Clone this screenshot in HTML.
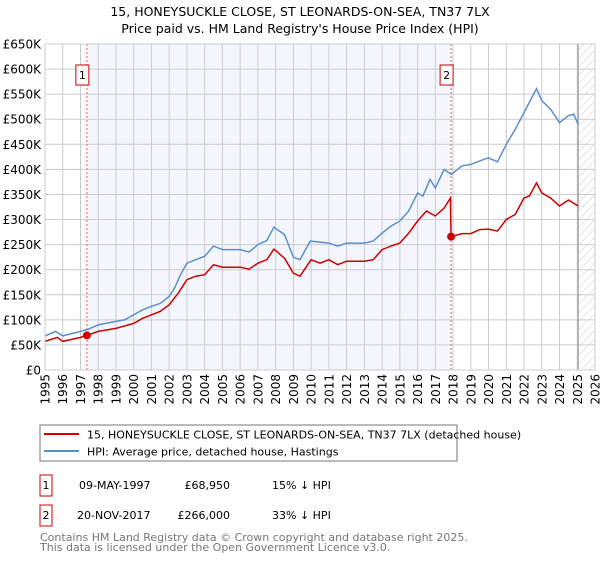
<!DOCTYPE html>
<html><head><meta charset="utf-8"><style>
body{margin:0;background:#fff;font-family:"DejaVu Sans","Liberation Sans",sans-serif;}
svg text{font-family:"DejaVu Sans","Liberation Sans",sans-serif;}
</style></head><body>
<svg id="chart" width="600" height="560" xmlns="http://www.w3.org/2000/svg">
<defs><pattern id="hatch" width="6" height="6" patternUnits="userSpaceOnUse" patternTransform="rotate(45)"><line x1="0" y1="0" x2="0" y2="6" stroke="#ccc" stroke-width="1"/></pattern></defs>
<text x="300" y="16" text-anchor="middle" font-size="12.5">15, HONEYSUCKLE CLOSE, ST LEONARDS-ON-SEA, TN37 7LX</text>
<text x="300" y="33" text-anchor="middle" font-size="12.5">Price paid vs. HM Land Registry's House Price Index (HPI)</text>
<g id="plot"></g>
<rect x="40" y="425" width="417" height="36" fill="#fff" stroke="#777"/>
<line x1="44" y1="434" x2="79" y2="434" stroke="#cc0000" stroke-width="2"/>
<text x="87" y="438.5" font-size="11">15, HONEYSUCKLE CLOSE, ST LEONARDS-ON-SEA, TN37 7LX (detached house)</text>
<line x1="44" y1="451" x2="79" y2="451" stroke="#5b8fd0" stroke-width="2"/>
<text x="87" y="455.5" font-size="11">HPI: Average price, detached house, Hastings</text>
<rect x="40" y="475" width="12" height="21" fill="#fff" stroke="#cc0000"/>
<text x="46" y="489" text-anchor="middle" font-size="11">1</text>
<text x="79" y="489" font-size="11">09-MAY-1997</text>
<text x="230" y="489" text-anchor="end" font-size="11">£68,950</text>
<text x="272" y="489" font-size="11">15% ↓ HPI</text>
<rect x="40" y="505" width="12" height="21" fill="#fff" stroke="#cc0000"/>
<text x="46" y="519" text-anchor="middle" font-size="11">2</text>
<text x="77" y="519" font-size="11">20-NOV-2017</text>
<text x="230" y="519" text-anchor="end" font-size="11">£266,000</text>
<text x="272" y="519" font-size="11">33% ↓ HPI</text>
<text x="40" y="541" font-size="11" fill="#777">Contains HM Land Registry data © Crown copyright and database right 2025.</text>
<text x="40" y="551" font-size="11" fill="#777">This data is licensed under the Open Government Licence v3.0.</text>
</svg>
<script>
const yTicks=[0,50,100,150,200,250,300,350,400,450,500,550,600,650];
const yLabels=["£0","£50K","£100K","£150K","£200K","£250K","£300K","£350K","£400K","£450K","£500K","£550K","£600K","£650K"];
const xYears=[1995,1996,1997,1998,1999,2000,2001,2002,2003,2004,2005,2006,2007,2008,2009,2010,2011,2012,2013,2014,2015,2016,2017,2018,2019,2020,2021,2022,2023,2024,2025,2026];
const hpiT=[1995,1995.6,1996,1997,1997.4,1998,1999,1999.5,2000,2000.5,2001,2001.5,2002,2002.3,2002.6,2003,2003.5,2004,2004.5,2005,2006,2006.5,2007,2007.5,2007.9,2008.5,2009,2009.37,2009.95,2011,2011.5,2012,2013,2013.5,2014,2014.5,2015,2015.5,2016,2016.3,2016.7,2017,2017.5,2017.9,2018.5,2019,2019.5,2020,2020.5,2021,2021.5,2022,2022.7,2023,2023.5,2024,2024.5,2024.8,2025.05];
const hpiV=[68,77,68,77,81,90,97,100,110,120,127,133,147,163,187,213,220,227,247,240,240,235,250,258,285,270,225,220,257,253,247,253,253,257,273,287,297,317,353,347,380,363,400,390,407,410,417,423,415,450,480,513,561,537,520,493,507,510,490];
const ppT=[1995,1995.7,1996,1997,1997.36,1998,1999,2000,2000.5,2001,2001.5,2002,2002.5,2003,2003.5,2004,2004.5,2005,2006,2006.5,2007,2007.5,2007.9,2008.5,2009,2009.37,2010,2010.5,2011,2011.5,2012,2013,2013.5,2014,2014.5,2015,2015.5,2016,2016.5,2017,2017.5,2017.85,2017.89,2018.5,2019,2019.5,2020,2020.5,2021,2021.5,2022,2022.3,2022.7,2023,2023.5,2024,2024.5,2025.05];
const ppV=[57,65,57,65,68.95,77,83,93,103,110,117,130,153,180,187,190,210,205,205,201,213,220,241,223,193,187,220,213,220,210,217,217,220,240,247,253,273,297,317,307,323,343,266,272,272,280,281,277,300,310,343,347,373,353,343,327,339,327];
const saleT=[1997.36,2017.89];
const saleV=[68.95,266];
const saleLabels=["1","2"];
const X=t=>45+(t-1995)*(550/31);
const Y=v=>370-v*(326/650);
const NS="http://www.w3.org/2000/svg";
const g=document.getElementById('plot');
function mk(tag,at){const e=document.createElementNS(NS,tag);for(const k in at)e.setAttribute(k,at[k]);g.appendChild(e);return e;}
let e;
e=mk('rect',{x:X(saleT[0]),y:Y(650),width:X(saleT[1])-X(saleT[0]),height:Y(0)-Y(650),fill:'#f3f6fd'});


e=mk('rect',{x:X(2025.05),y:Y(650),width:X(2026)-X(2025.05),height:Y(0)-Y(650),fill:'url(#hatch)'});


yTicks.forEach((v,i)=>{
 e=mk('line',{x1:45,x2:595,y1:Y(v),y2:Y(v),stroke:'#ccc'});
 
 
 e=mk('text',{x:41,y:Y(v)+4.5,'text-anchor':'end','font-size':12});e.textContent=yLabels[i];
 
 
});
xYears.forEach(t=>{
 e=mk('line',{x1:X(t),x2:X(t),y1:Y(0),y2:Y(650),stroke:'#ccc'});
 
 
 e=mk('text',{x:0,y:0,'font-size':12,'text-anchor':'end',transform:`translate(${X(t)+4.5},374) rotate(-90)`});e.textContent=t;
 
 
});
e=mk('line',{x1:X(2025.05),x2:X(2025.05),y1:Y(0),y2:Y(650),stroke:'#888','stroke-width':1});


saleT.forEach((t,i)=>{
 e=mk('line',{x1:X(t),x2:X(t),y1:Y(0),y2:Y(650),stroke:'#e06060','stroke-dasharray':'2,2'});
 
 
});
function path(T,V){return T.map((t,i)=>(i?'L':'M')+X(t).toFixed(1)+','+Y(V[i]).toFixed(1)).join('');}
e=mk('path',{d:path(hpiT,hpiV),fill:'none',stroke:'#5b8fd0','stroke-width':1.5});


e=mk('path',{d:path(ppT,ppV),fill:'none',stroke:'#cc0000','stroke-width':1.5});


saleT.forEach((t,i)=>{
 e=mk('circle',{cx:X(t),cy:Y(saleV[i]),r:4,fill:'#cc0000'});
 
 
 e=mk('rect',{x:X(t)-11,y:65,width:13,height:20,fill:'#fff',stroke:'#cc0000'});
 
 
 e=mk('text',{x:X(t)-4.5,y:79,'text-anchor':'middle','font-size':11});e.textContent=saleLabels[i];
 
 
});
e=mk('rect',{x:45,y:Y(650),width:550,height:Y(0)-Y(650),fill:'none',stroke:'#ccc'});


</script>
</body></html>
